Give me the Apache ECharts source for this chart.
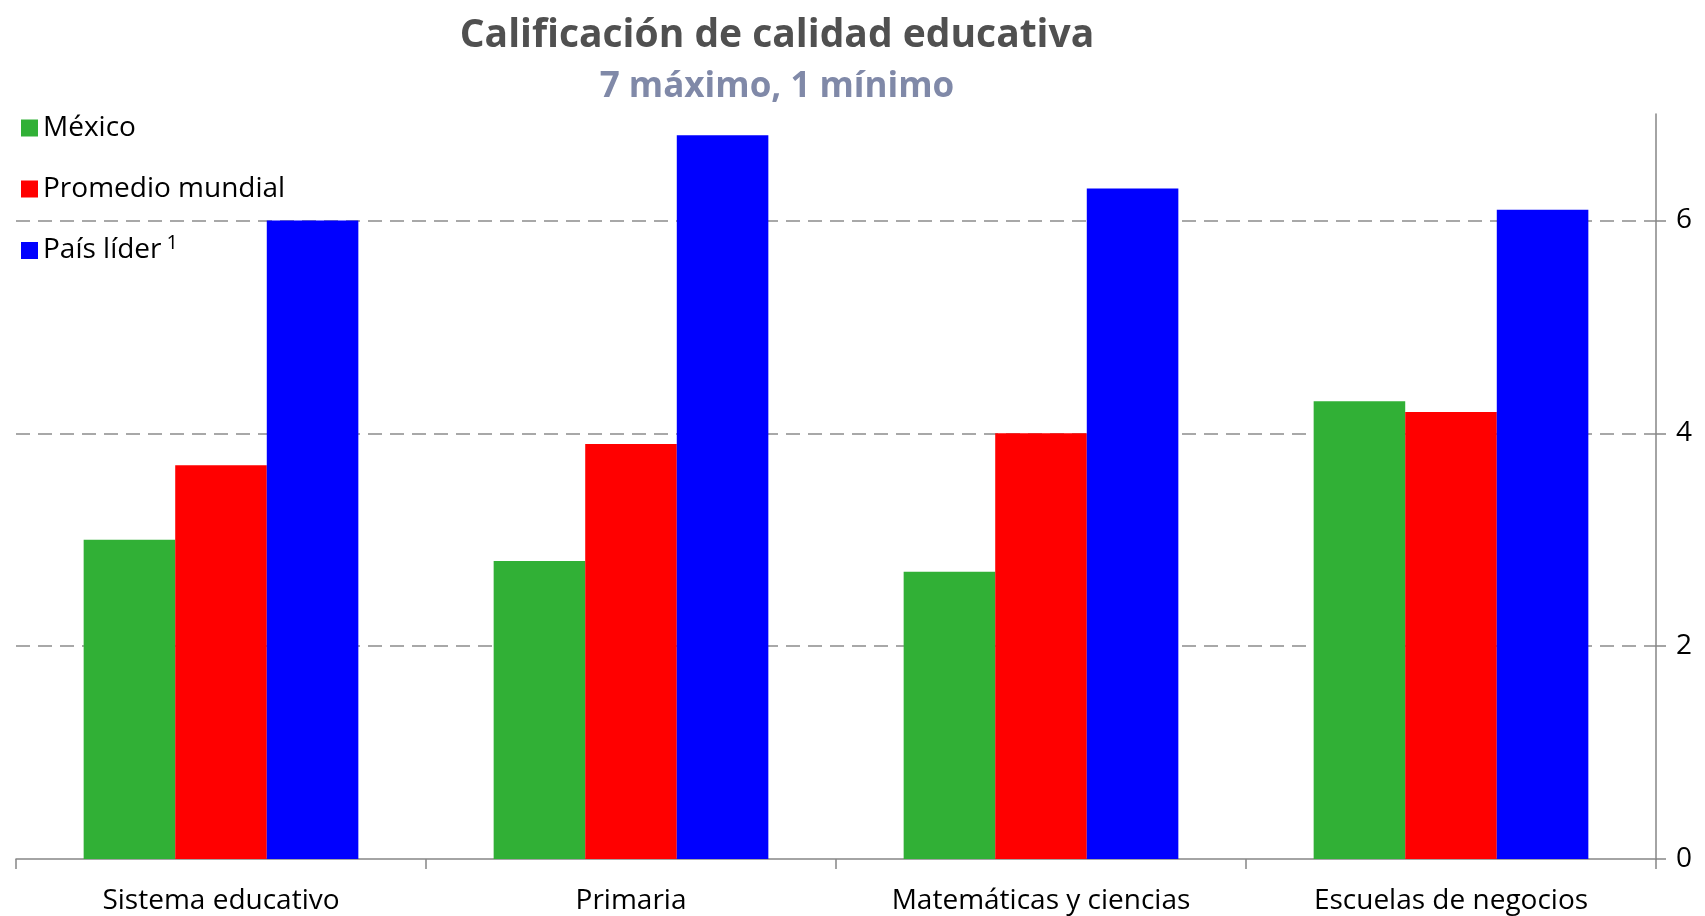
<!DOCTYPE html>
<html>
<head>
<meta charset="utf-8">
<script src="https://cdn.jsdelivr.net/npm/echarts@6/dist/echarts.min.js"></script>
<style>
  html, body { margin: 0; padding: 0; background: #fff; }
  #chart { width: 1705px; height: 916px; }
</style>
</head>
<body>
<div id="chart"></div>
<script>
  var categories = ['Sistema educativo', 'Primaria', 'Matemáticas y ciencias', 'Escuelas de negocios']
  var seriesNames = ['México', 'Promedio mundial', 'País líder']
  var mexico = [3.0, 2.8, 2.7, 4.3]
  var promedio = [3.7, 3.9, 4.0, 4.2]
  var lider = [6.0, 6.8, 6.3, 6.1]
  var yTicks = [0, 2, 4, 6]

  var font = '"Open Sans", sans-serif'
  var chart = echarts.init(document.getElementById('chart'))

  chart.setOption({
    animation: false,
    textStyle: { fontFamily: font },
    title: [{
      text: 'Calificación de calidad educativa',
      left: 772,
      top: 11,
      textAlign: 'center',
      textStyle: { fontSize: 39, fontWeight: 'bold', color: '#505050', fontFamily: font }
    }, {
      text: '7 máximo, 1 mínimo',
      left: 772,
      top: 65,
      textAlign: 'center',
      textStyle: { fontSize: 35, fontWeight: 'bold', color: '#8089a8', fontFamily: font }
    }],
    legend: {
      orient: 'vertical',
      left: 16,
      top: 106,
      icon: 'rect',
      itemWidth: 17,
      itemHeight: 17,
      itemGap: 27,
      data: seriesNames,
      formatter: function (name) {
        return name === 'País líder' ? name + '{sup|1}' : name
      },
      textStyle: {
        fontSize: 28,
        color: '#000',
        lineHeight: 34,
        fontFamily: font,
        rich: {
          sup: { fontSize: 20, padding: [0, 0, 15, 5], color: '#000' }
        }
      }
    },
    grid: {
      left: 16,
      right: 49,
      top: 114,
      bottom: 57
    },
    xAxis: {
      type: 'category',
      data: categories,
      axisLine: { lineStyle: { color: '#868686', width: 1.5 } },
      axisTick: { show: true, length: 10, lineStyle: { color: '#868686', width: 1.5 } },
      axisLabel: { fontSize: 28, color: '#000', margin: 28 }
    },
    yAxis: {
      type: 'value',
      position: 'right',
      min: 0,
      max: 7,
      interval: 2,
      axisLine: { show: true, lineStyle: { color: '#868686', width: 1.5 } },
      axisTick: { show: true, length: 10, customValues: yTicks, lineStyle: { color: '#868686', width: 1.5 } },
      axisLabel: { fontSize: 28, color: '#000', margin: 20, customValues: yTicks },
      splitLine: {
        show: true,
        showMinLine: false,
        lineStyle: { color: '#8c8c8c', width: 1.5, type: [14, 8] }
      }
    },
    series: [{
      name: 'México',
      type: 'bar',
      data: mexico,
      barGap: '0%',
      barCategoryGap: '33%',
      itemStyle: { color: '#31b036' }
    }, {
      name: 'Promedio mundial',
      type: 'bar',
      data: promedio,
      itemStyle: { color: '#ff0000' }
    }, {
      name: 'País líder',
      type: 'bar',
      data: lider,
      itemStyle: { color: '#0000ff' }
    }]
  })
</script>
</body>
</html>
